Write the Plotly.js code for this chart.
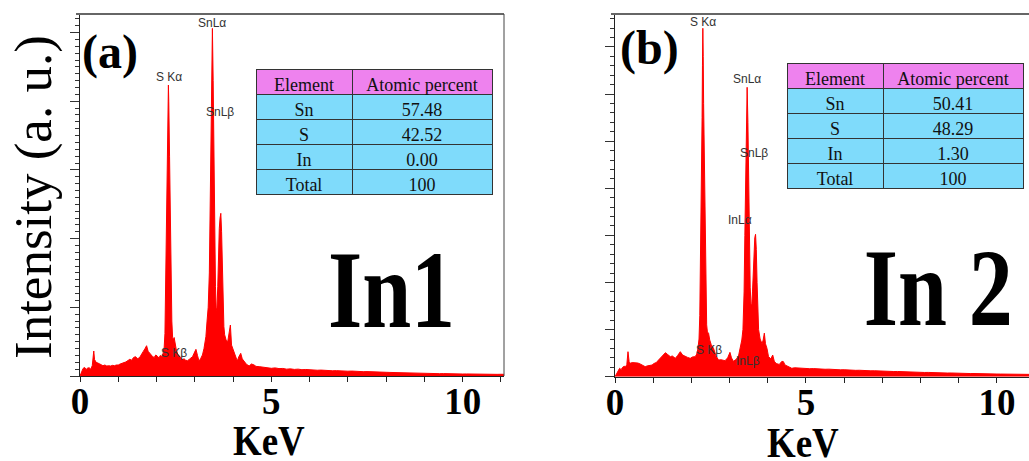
<!DOCTYPE html>
<html>
<head>
<meta charset="utf-8">
<script src="https://cdn.plot.ly/plotly-3.0.1.min.js"></script>
<style>html,body{margin:0;padding:0;background:#fff;}#chart{width:1029px;height:461px;}</style>
</head>
<body>
<div id="chart"></div>
<script>
// ---------- DATA ----------
// Panel (a) In1 : energy (keV) and intensity (counts, arbitrary)
var energyA = [0.00,0.04,0.08,0.12,0.16,0.20,0.24,0.28,0.32,0.36,0.38,0.42,0.46,0.50,0.55,0.60,0.65,0.70,0.75,0.80,0.85,0.90,0.95,1.00,1.05,1.10,1.15,1.20,1.25,1.30,1.35,1.40,1.45,1.50,1.55,1.60,1.65,1.70,1.74,1.78,1.82,1.86,1.90,1.94,1.98,2.02,2.06,2.10,2.14,2.17,2.20,2.22,2.24,2.26,2.28,2.30,2.31,2.32,2.34,2.36,2.38,2.40,2.42,2.44,2.46,2.48,2.51,2.55,2.60,2.64,2.68,2.72,2.76,2.81,2.86,2.90,2.94,2.98,3.03,3.07,3.11,3.15,3.20,3.24,3.29,3.32,3.35,3.38,3.40,3.42,3.44,3.46,3.48,3.50,3.52,3.54,3.56,3.58,3.60,3.62,3.64,3.66,3.68,3.70,3.72,3.74,3.76,3.78,3.82,3.86,3.90,3.93,3.96,4.00,4.03,4.07,4.11,4.15,4.20,4.24,4.29,4.35,4.42,4.48,4.55,4.60,4.7,4.8,4.9,5.0,5.1,5.2,5.3,5.4,5.5,5.6,5.7,5.8,5.9,6.0,6.1,6.2,6.3,6.4,6.5,6.6,6.7,6.8,6.9,7.0,7.1,7.2,7.3,7.4,7.5,7.6,7.7,7.8,7.9,8.0,8.1,8.2,8.3,8.4,8.5,8.6,8.7,8.8,8.9,9.0,9.1,9.2,9.3,9.4,9.5,9.6,9.7,9.8,9.9,10.0,10.1,10.2,10.3,10.4,10.5,10.6,10.7,10.8,10.9,11.0,11.1];
var countsA = [0,60,110,125,95,115,120,100,150,364,240,200,195,180,165,150,160,145,150,145,155,150,160,160,175,180,195,205,220,243,230,270,281,255,262,300,354,400,441,360,330,300,281,270,306,290,262,300,280,330,420,620,1300,2300,3200,3950,4236,4000,3200,2200,1300,800,560,524,560,470,403,320,280,262,240,250,230,223,245,260,281,330,388,300,218,250,306,400,573,800,1000,1500,2400,3500,4500,5061,4300,3000,2000,1300,950,1000,1300,1800,2150,2300,2368,2100,1500,1000,720,600,520,500,620,742,450,380,330,260,218,280,330,250,209,170,146,175,160,140,135,128,120,112,118,108,110,100,104,96,100,92,95,88,90,84,86,80,82,76,78,72,74,70,72,66,68,63,64,60,61,56,58,54,52,50,50,46,47,44,45,41,42,40,38,37,36,34,35,32,33,30,31,29,30,28,27,28,26,27,25,26,24,25,24];

// Panel (b) In 2
var energyB = [0.00,0.04,0.08,0.12,0.16,0.20,0.24,0.28,0.31,0.34,0.37,0.40,0.45,0.50,0.55,0.60,0.66,0.72,0.79,0.85,0.91,0.97,1.02,1.08,1.14,1.20,1.26,1.32,1.38,1.45,1.50,1.58,1.64,1.71,1.77,1.84,1.90,1.97,2.03,2.10,2.14,2.17,2.20,2.22,2.24,2.26,2.28,2.29,2.30,2.31,2.32,2.34,2.36,2.38,2.40,2.42,2.45,2.48,2.52,2.58,2.64,2.71,2.78,2.88,2.95,3.01,3.05,3.10,3.16,3.23,3.28,3.32,3.35,3.38,3.40,3.42,3.44,3.46,3.48,3.50,3.52,3.54,3.56,3.58,3.60,3.62,3.64,3.66,3.68,3.70,3.72,3.74,3.76,3.80,3.85,3.88,3.91,3.94,3.98,4.02,4.08,4.13,4.17,4.22,4.30,4.37,4.41,4.45,4.50,4.56,4.63,4.7,4.8,4.9,5.0,5.1,5.2,5.3,5.4,5.5,5.6,5.7,5.8,5.9,6.0,6.1,6.2,6.3,6.4,6.5,6.6,6.7,6.8,6.9,7.0,7.1,7.2,7.3,7.4,7.5,7.6,7.7,7.8,7.9,8.0,8.1,8.2,8.3,8.4,8.5,8.6,8.7,8.8,8.9,9.0,9.1,9.2,9.3,9.4,9.5,9.6,9.7,9.8,9.9,10.0,10.1,10.2,10.3,10.4,10.5,10.6,10.7,10.8,10.9];
var countsB = [0,70,120,178,150,200,220,213,260,531,320,284,300,297,280,290,270,240,213,230,240,248,280,300,354,400,450,510,470,425,440,390,450,531,460,425,410,390,420,425,480,592,800,1300,2400,4000,5500,6600,7397,6800,5800,4300,2800,1600,1100,950,921,780,680,603,450,354,360,340,400,517,400,326,360,425,600,779,1000,1800,3000,4300,5500,6144,5400,4000,2800,1900,1550,1500,1800,2300,2700,2950,3023,2700,2000,1400,1000,800,700,780,925,700,600,425,380,460,330,280,260,326,320,250,226,210,178,190,182,176,178,170,172,164,166,158,160,152,154,146,148,140,142,135,137,130,131,125,126,120,121,115,116,110,111,106,104,100,101,95,96,90,91,86,87,82,83,78,79,74,75,70,71,67,68,64,65,61,62,58,57,56,55,54,52,53,51,52,50,49];

// Peak labels
var peakNamesA = ['S Kα','SnLα','SnLβ','S Kβ'];
var peakXA     = [2.33, 3.45, 3.66, 2.46];
var peakYA     = [4352, 5143, 3843, 339];
var peakNamesB = ['S Kα','SnLα','SnLβ','InLα','S Kβ','InLβ'];
var peakXB     = [2.30, 3.45, 3.65, 3.27, 2.46, 3.49];
var peakYB     = [7537, 6314, 4756, 3327, 567, 340];

// Tables
var tableHeader = ['Element','Atomic percent'];
var elements = ['Sn','S','In','Total'];
var atomicA = ['57.48','42.52','0.00','100'];
var atomicB = ['50.41','48.29','1.30','100'];

var xTickVals = [0,5,10];
var xTickText = ['0','5','10'];

// ---------- LAYOUT HELPERS ----------
var W = 1029, H = 461;
function px(x){return x/W;}
function py(y){return 1 - y/H;}

var red = '#ff0000';
var serif = 'Liberation Serif, Times New Roman, serif';
var sans = 'Liberation Sans, Arial, sans-serif';

var traces = [
  {x: energyA, y: countsA, type:'scatter', mode:'lines', fill:'tozeroy', fillcolor:red,
   line:{color:red, width:1, shape:'linear'}, xaxis:'x', yaxis:'y', hoverinfo:'skip'},
  {x: energyB, y: countsB, type:'scatter', mode:'lines', fill:'tozeroy', fillcolor:red,
   line:{color:red, width:1, shape:'linear'}, xaxis:'x2', yaxis:'y2', hoverinfo:'skip'},
  {type:'table', domain:{x:[px(256), px(492)], y:[py(195), py(69)]},
   columnwidth:[96,140],
   header:{values:tableHeader, align:'center', height:25, fill:{color:'#ee82ee'},
           line:{color:'#333', width:1}, font:{family:serif, size:18, color:'#111'}},
   cells:{values:[elements, atomicA], align:'center', height:25, fill:{color:'#7fdbfb'},
          line:{color:'#333', width:1}, font:{family:serif, size:18, color:'#111'}}},
  {type:'table', domain:{x:[px(787), px(1023)], y:[py(189), py(63)]},
   columnwidth:[96,140],
   header:{values:tableHeader, align:'center', height:25, fill:{color:'#ee82ee'},
           line:{color:'#333', width:1}, font:{family:serif, size:18, color:'#111'}},
   cells:{values:[elements, atomicB], align:'center', height:25, fill:{color:'#7fdbfb'},
          line:{color:'#333', width:1}, font:{family:serif, size:18, color:'#111'}}}
];

function xaxisDef(domain, range){
  return {domain:domain, range:range, showgrid:false, zeroline:false,
    showline:true, linecolor:'#222', linewidth:1,
    ticks:'outside', ticklen:5, tickcolor:'#222', tickwidth:1,
    tickmode:'array', tickvals:xTickVals, ticktext:xTickText, ticklabelstandoff:-12,
    minor:{dtick:1, ticks:'outside', ticklen:5, tickcolor:'#222', tickwidth:1, showgrid:false},
    tickfont:{family:serif, size:37, color:'#000', weight:'bold'}, fixedrange:true};
}
function yaxisDef(domain, range, dtick, mdtick, anchor){
  return {domain:domain, range:range, anchor:anchor, showgrid:false, zeroline:false,
    showline:true, linecolor:'#222', linewidth:1,
    ticks:'outside', ticklen:9, tickcolor:'#333', tickwidth:1, dtick:dtick, tick0:0,
    showticklabels:false,
    minor:{dtick:mdtick, ticks:'outside', ticklen:4, tickcolor:'#333', tickwidth:1, showgrid:false},
    fixedrange:true};
}

var annotations = [];
function addPeakLabels(names, xs, ys, xr, yr){
  for (var i=0;i<names.length;i++){
    annotations.push({x:xs[i], y:ys[i], xref:xr, yref:yr, text:names[i], showarrow:false,
      xanchor:'center', yanchor:'middle', font:{family:sans, size:12, color:'#333'}});
  }
}
addPeakLabels(peakNamesA, peakXA, peakYA, 'x', 'y');
addPeakLabels(peakNamesB, peakXB, peakYB, 'x2', 'y2');

var squeeze = {}; // annotation index -> horizontal scale
function paperText(text, x, y, size, weight, extra, sx){
  var a = {x:px(x), y:py(y), xref:'paper', yref:'paper', text:text, showarrow:false,
    xanchor:'center', yanchor:'middle', font:{family:serif, size:size, color:'#000', weight:weight}};
  if (extra) for (var k in extra) a[k] = extra[k];
  if (sx) squeeze[annotations.length] = sx;
  annotations.push(a);
}
paperText('(a)', 110, 52, 48, 'bold');
paperText('(b)', 649, 48, 48, 'bold');
paperText('In1', 391, 290, 110, 'bold', null, 0.8);
paperText('In 2', 938, 288, 110, 'bold', null, 0.8);
paperText('KeV', 269, 441, 42, 'bold', null, 0.88);
paperText('KeV', 803, 443, 42, 'bold', null, 0.88);
paperText('Intensity (a. u.)', 34, 197, 53, 'normal', {textangle:-90});

var shapes = [
  {type:'line', xref:'paper', yref:'paper', x0:px(76), x1:px(504), y0:py(14), y1:py(14), line:{color:'#666', width:2}},
  {type:'line', xref:'paper', yref:'paper', x0:px(504), x1:px(504), y0:py(14), y1:py(376), line:{color:'#444', width:1}},
  {type:'line', xref:'paper', yref:'paper', x0:px(611), x1:px(1029), y0:py(14), y1:py(14), line:{color:'#666', width:2}}
];

var layout = {
  width:W, height:H, margin:{l:0, r:0, t:0, b:0}, showlegend:false,
  paper_bgcolor:'#fff', plot_bgcolor:'#fff',
  xaxis: xaxisDef([px(80), px(504)], [0, 11.08]),
  yaxis: yaxisDef([py(376), py(14)], [0, 5270], 1000, 100, 'x'),
  xaxis2: Object.assign(xaxisDef([px(615), 1], [0, 10.84]), {anchor:'y2'}),
  yaxis2: yaxisDef([py(376.7), py(14)], [0, 7700], 1000, 200, 'x2'),
  annotations: annotations, shapes: shapes
};
layout.xaxis.anchor = 'y';

Plotly.newPlot('chart', traces, layout, {staticPlot:true, displayModeBar:false}).then(function(gd){
  var groups = gd.querySelectorAll('.annotation');
  Object.keys(squeeze).forEach(function(idx){
    var g = groups[idx];
    if (!g) return;
    var t = g.querySelector('text');
    if (!t) return;
    var bb = t.getBBox();
    var cx = bb.x + bb.width/2;
    var s = squeeze[idx];
    t.setAttribute('transform', 'translate(' + cx + ',0) scale(' + s + ',1) translate(' + (-cx) + ',0)');
  });
});
</script>
</body>
</html>
